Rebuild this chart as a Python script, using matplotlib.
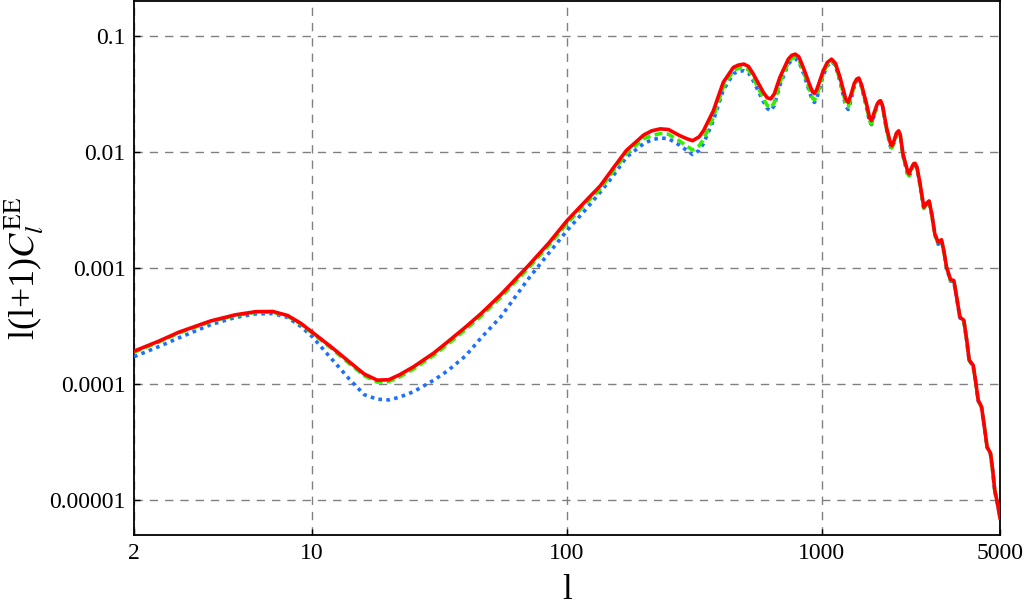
import matplotlib
matplotlib.use("Agg")
import matplotlib.pyplot as plt
from matplotlib.ticker import FixedLocator, FixedFormatter, NullLocator

# multipoles, grouped by region of the curve
ell = [2, 2.5, 3, 4, 5, 6, 7, 8, 9, 10,
       12, 14, 16, 18, 20, 22, 25, 30, 34, 40, 46, 55, 70, 85, 100,
       120, 135, 150, 171, 200, 215, 232, 250, 277, 295, 311, 330, 343,
       375, 410, 449, 470, 494, 515, 538, 589, 610, 629, 650, 684, 738, 762,
       786, 812, 845, 898, 918, 935, 955,
       1012, 1050, 1091, 1130, 1178, 1240, 1268, 1300, 1340, 1370, 1396, 1430,
       1497, 1540, 1566, 1600, 1650, 1680, 1699, 1730, 1792, 1860, 1882, 1920,
       1960, 2000, 2030,
       2080, 2170, 2199, 2240, 2290, 2321, 2360, 2421, 2512, 2570, 2634, 2700,
       2773, 2858, 2946, 3010, 3083, 3197, 3294, 3380, 3479, 3606, 3700, 3784,
       3922, 4000, 4105, 4230, 4340, 4447, 4588, 4680, 4766, 4880, 5000]

# l(l+1) C_l^EE, red solid model
cl_red = [1.92e-4, 2.34e-4, 2.8e-4, 3.5e-4, 3.95e-4, 4.2e-4, 4.22e-4, 3.9e-4, 3.35e-4, 2.8e-4,
          2.05e-4, 1.55e-4, 1.22e-4, 1.08e-4, 1.09e-4, 1.2e-4, 1.41e-4, 1.85e-4, 2.31e-4,
          3.1e-4, 4.05e-4, 5.9e-4, 1.03e-3, 1.65e-3, 2.56e-3,
          3.9e-3, 5.1e-3, 7.0e-3, 1.03e-2, 1.40e-2, 1.52e-2, 1.58e-2, 1.56e-2, 1.38e-2,
          1.3e-2, 1.25e-2, 1.35e-2, 1.52e-2,
          0.0226, 0.0397, 0.0534, 0.056, 0.0571, 0.0545, 0.0469, 0.0326, 0.0293, 0.0286,
          0.0315, 0.0439, 0.063, 0.068, 0.0696, 0.066, 0.0534, 0.0372, 0.033, 0.0319, 0.0345,
          0.050, 0.059, 0.063, 0.058, 0.0439, 0.0285, 0.0267, 0.031, 0.039, 0.0425, 0.0433,
          0.038, 0.0259, 0.0195, 0.0186, 0.0215, 0.026, 0.0274, 0.0276, 0.025, 0.0163,
          0.0117, 0.0113, 0.0125, 0.0145, 0.0152, 0.014,
          9.6e-3, 6.8e-3, 6.47e-3, 7.2e-3, 7.9e-3, 7.98e-3, 7.4e-3, 5.5e-3, 3.34e-3, 3.6e-3,
          3.78e-3, 2.9e-3, 1.97e-3, 1.67e-3, 1.75e-3, 1.4e-3, 1.02e-3, 7.93e-4, 7.8e-4,
          5.6e-4, 3.78e-4, 3.54e-4, 2.4e-4, 1.61e-4, 1.45e-4, 1.1e-4, 7.27e-5, 6.37e-5,
          4.3e-5, 2.88e-5, 2.53e-5, 1.8e-5, 1.22e-5, 9.5e-6, 7.0e-6]

# green dashed model
cl_green = [1.88e-4, 2.3e-4, 2.75e-4, 3.45e-4, 3.9e-4, 4.15e-4, 4.17e-4, 3.85e-4, 3.3e-4, 2.75e-4,
            2.0e-4, 1.5e-4, 1.18e-4, 1.04e-4, 1.05e-4, 1.15e-4, 1.35e-4, 1.77e-4, 2.2e-4,
            2.95e-4, 3.85e-4, 5.6e-4, 9.8e-4, 1.57e-3, 2.42e-3,
            3.7e-3, 4.8e-3, 6.6e-3, 9.7e-3, 1.30e-2, 1.38e-2, 1.44e-2, 1.42e-2, 1.24e-2,
            1.12e-2, 1.04e-2, 1.13e-2, 1.28e-2,
            0.0198, 0.036, 0.050, 0.0525, 0.0535, 0.051, 0.0435, 0.029, 0.0252, 0.024,
            0.0265, 0.0395, 0.059, 0.0638, 0.0655, 0.062, 0.050, 0.0335, 0.0292, 0.028, 0.0305,
            0.047, 0.0565, 0.061, 0.0563, 0.0415, 0.0262, 0.0245, 0.0288, 0.0375, 0.0415, 0.0425,
            0.0372, 0.0246, 0.0184, 0.0175, 0.0205, 0.0254, 0.027, 0.0272, 0.0246, 0.0158,
            0.0112, 0.0108, 0.0121, 0.0142, 0.0151, 0.0139,
            9.4e-3, 6.5e-3, 6.2e-3, 7.0e-3, 7.8e-3, 7.9e-3, 7.3e-3, 5.4e-3, 3.25e-3, 3.55e-3,
            3.75e-3, 2.88e-3, 1.95e-3, 1.62e-3, 1.73e-3, 1.39e-3, 1.01e-3, 7.8e-4, 7.75e-4,
            5.55e-4, 3.75e-4, 3.5e-4, 2.38e-4, 1.6e-4, 1.44e-4, 1.09e-4, 7.2e-5, 6.3e-5,
            4.27e-5, 2.86e-5, 2.5e-5, 1.79e-5, 1.21e-5, 9.4e-6, 7.0e-6]

# blue dotted model
cl_blue = [1.72e-4, 2.1e-4, 2.5e-4, 3.25e-4, 3.75e-4, 4.02e-4, 4.05e-4, 3.75e-4, 3.15e-4, 2.56e-4,
           1.62e-4, 1.1e-4, 8.1e-5, 7.4e-5, 7.3e-5, 7.7e-5, 8.6e-5, 1.08e-4, 1.3e-4,
           1.75e-4, 2.5e-4, 3.8e-4, 7.9e-4, 1.35e-3, 2.1e-3,
           3.3e-3, 4.5e-3, 6.0e-3, 9.0e-3, 1.18e-2, 1.27e-2, 1.32e-2, 1.3e-2, 1.14e-2,
           1.03e-2, 9.5e-3, 1.03e-2, 1.18e-2,
           0.0186, 0.034, 0.047, 0.0495, 0.050, 0.048, 0.041, 0.0272, 0.0237, 0.0226,
           0.025, 0.0375, 0.057, 0.0618, 0.0635, 0.060, 0.048, 0.032, 0.0278, 0.0267, 0.029,
           0.0455, 0.055, 0.060, 0.0555, 0.0405, 0.0248, 0.0232, 0.0278, 0.0368, 0.0407, 0.0417,
           0.0366, 0.024, 0.018, 0.0172, 0.0202, 0.0252, 0.0268, 0.027, 0.0244, 0.0156,
           0.011, 0.0106, 0.012, 0.0141, 0.015, 0.0138,
           9.3e-3, 6.35e-3, 6.05e-3, 6.9e-3, 7.75e-3, 7.85e-3, 7.25e-3, 5.35e-3, 3.2e-3, 3.52e-3,
           3.72e-3, 2.86e-3, 1.93e-3, 1.6e-3, 1.72e-3, 1.38e-3, 1.0e-3, 7.7e-4, 7.7e-4,
           5.5e-4, 3.72e-4, 3.48e-4, 2.36e-4, 1.59e-4, 1.43e-4, 1.08e-4, 7.15e-5, 6.25e-5,
           4.25e-5, 2.85e-5, 2.48e-5, 1.78e-5, 1.2e-5, 9.4e-6, 7.0e-6]

x_ticks = [2, 10, 100, 1000, 5000]
x_labels = ['2', '10', '100', '1000', '5000']
y_ticks = [1e-5, 1e-4, 1e-3, 1e-2, 1e-1]
y_labels = ['0.00001', '0.0001', '0.001', '0.01', '0.1']

plt.rcParams['font.family'] = ['Liberation Serif', 'DejaVu Serif']
plt.rcParams['mathtext.fontset'] = 'stix'

fig = plt.figure(figsize=(10.24, 6.08), dpi=100)
ax = fig.add_axes([0.1309, 0.120, 0.8457, 0.8785])

ax.plot(ell, cl_blue, color='#1f6fff', lw=2.6, ls=(0, (1.0, 1.2)),
        dash_capstyle='butt', zorder=3)
ax.plot(ell, cl_green, color='#33ee00', lw=2.6, ls=(0, (2.2, 1.2)), zorder=4)
ax.plot(ell, cl_red, color='#ff0000', lw=2.6, ls='-', zorder=5)

ax.set_xscale('log')
ax.set_yscale('log')
ax.set_xlim(2, 5000)
ax.set_ylim(5e-6, 0.2)

ax.xaxis.set_major_locator(FixedLocator(x_ticks))
ax.xaxis.set_major_formatter(FixedFormatter(x_labels))
ax.xaxis.set_minor_locator(NullLocator())
ax.yaxis.set_major_locator(FixedLocator(y_ticks))
ax.yaxis.set_major_formatter(FixedFormatter(y_labels))
ax.yaxis.set_minor_locator(NullLocator())

ax.tick_params(direction='in', length=4, width=1, labelsize=17, pad=6)
for sp in ax.spines.values():
    sp.set_linewidth(1.3)

ax.grid(True, which='major', color='#808080', ls=(0, (6, 5)), lw=1.0)
ax.set_axisbelow(True)

ax.set_xlabel('l', fontsize=25, labelpad=7)
ax.set_ylabel(r'l(l+1)$C_l^{\mathrm{EE}}$', fontsize=26, labelpad=2.5)

plt.savefig('out.png', dpi=100)
